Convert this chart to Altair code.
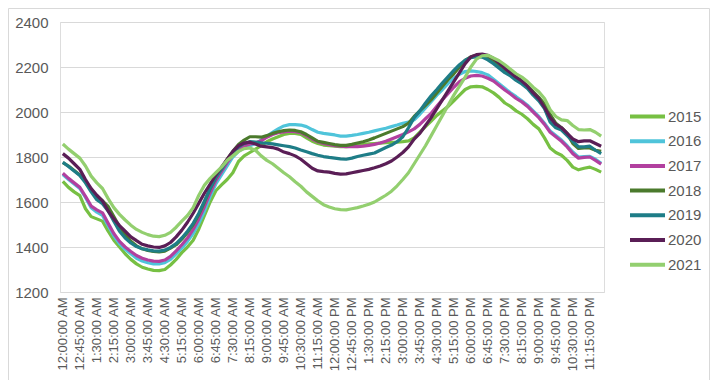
import altair as alt
import pandas as pd

years = ["2015", "2016", "2017", "2018", "2019", "2020", "2021"]
colors = ["#77C043", "#4FC4DA", "#B2409F", "#4B7A2C", "#1E7D87", "#5A1E56", "#93CF6F"]

# 15-minute intervals over one day
times = []
for h in range(24):
    hh = 12 if h % 12 == 0 else h % 12
    ap = "AM" if h < 12 else "PM"
    for m in (0, 15, 30, 45):
        times.append(f"{hh}:{m:02d}:00 {ap}")
tick_labels = times[::3]

v2015 = [1692, 1665, 1645, 1628, 1570, 1535, 1525, 1515, 1470, 1430, 1400, 1370,
         1345, 1325, 1310, 1302, 1296, 1295, 1300, 1320, 1345, 1375, 1400, 1430,
         1480, 1540, 1600, 1650, 1676, 1700, 1730, 1780, 1805, 1820, 1835, 1850,
         1868, 1880, 1890, 1900, 1905, 1905, 1900, 1885, 1870, 1860, 1853, 1850,
         1848, 1846, 1846, 1848, 1852, 1855, 1858, 1860, 1862, 1864, 1865, 1866,
         1868, 1872, 1885, 1910, 1935, 1960, 1985, 2005, 2025, 2050, 2075, 2100,
         2112, 2114, 2112, 2100, 2085, 2065, 2040, 2025, 2005, 1990, 1970, 1945,
         1925, 1885, 1840, 1820, 1808, 1785, 1755, 1743, 1750, 1755, 1745, 1733]
v2016 = [1722, 1700, 1680, 1660, 1620, 1575, 1555, 1540, 1495, 1450, 1415, 1390,
         1370, 1350, 1338, 1330, 1325, 1325, 1330, 1345, 1370, 1395, 1425, 1460,
         1505, 1560, 1625, 1680, 1720, 1760, 1800, 1825, 1840, 1850, 1860, 1875,
         1892, 1910, 1925, 1938, 1944, 1944, 1942, 1935, 1922, 1910, 1905, 1902,
         1898, 1893, 1893, 1896, 1900, 1905, 1910, 1916, 1922, 1928, 1935, 1942,
         1950, 1955, 1965, 1990, 2018, 2046, 2075, 2100, 2127, 2150, 2168, 2180,
         2183, 2180, 2175, 2165, 2145, 2125, 2105, 2085, 2068, 2050, 2030, 2005,
         1980, 1950, 1915, 1895, 1875, 1850, 1822, 1800, 1802, 1803, 1790, 1772]
v2017 = [1728, 1705, 1685, 1665, 1625, 1582, 1565, 1552, 1505, 1460, 1425, 1400,
         1380, 1362, 1350, 1342, 1337, 1336, 1342, 1358, 1383, 1410, 1440, 1478,
         1525, 1580, 1640, 1695, 1735, 1775, 1810, 1835, 1848, 1858, 1862, 1872,
         1888, 1900, 1908, 1912, 1915, 1913, 1908, 1895, 1880, 1868, 1860, 1855,
         1850, 1848, 1846, 1846, 1846, 1848, 1852, 1856, 1862, 1870, 1880, 1890,
         1900, 1912, 1925, 1945, 1970, 1994, 2025, 2055, 2083, 2110, 2135, 2150,
         2160, 2163, 2160, 2150, 2138, 2118, 2098, 2080, 2060, 2045, 2025, 2000,
         1975, 1945, 1910, 1890, 1870, 1845, 1815, 1795, 1798, 1800, 1785, 1768]
v2018 = [1775, 1760, 1740, 1720, 1690, 1655, 1625, 1605, 1580, 1535, 1490, 1455,
         1425, 1405, 1392, 1385, 1380, 1378, 1382, 1395, 1410, 1435, 1465, 1500,
         1545, 1600, 1660, 1710, 1750, 1790, 1825, 1855, 1875, 1890, 1890, 1888,
         1895, 1905, 1912, 1917, 1920, 1918, 1912, 1900, 1885, 1870, 1865, 1860,
         1855, 1852, 1852, 1856, 1862, 1868, 1876, 1885, 1895, 1905, 1915, 1925,
         1935, 1950, 1980, 2005, 2030, 2055, 2085, 2115, 2145, 2170, 2200, 2230,
         2245, 2252, 2252, 2240, 2225, 2205, 2185, 2170, 2155, 2135, 2115, 2090,
         2065, 2035, 1990, 1950, 1930, 1905, 1860, 1838, 1840, 1840, 1830, 1825]
v2019 = [1777, 1758, 1738, 1718, 1685, 1645, 1610, 1592, 1560, 1515, 1470, 1440,
         1418, 1402, 1392, 1387, 1383, 1382, 1386, 1398, 1415, 1440, 1470, 1505,
         1550, 1605, 1660, 1708, 1745, 1785, 1820, 1845, 1860, 1868, 1866, 1863,
         1861, 1858, 1854, 1850, 1846, 1840, 1831, 1823, 1815, 1808, 1802, 1798,
         1795, 1792, 1790, 1795, 1802, 1808, 1813, 1818, 1830, 1842, 1853, 1868,
         1890, 1930, 1975, 2005, 2040, 2072, 2100, 2130, 2157, 2185, 2210, 2230,
         2242, 2246, 2244, 2232, 2215, 2195, 2175, 2160, 2140, 2125, 2105, 2075,
         2050, 2015, 1955, 1930, 1920, 1895, 1870, 1845, 1845, 1848, 1830, 1815]
v2020 = [1815, 1795, 1770, 1745, 1700, 1660, 1630, 1605, 1560, 1525, 1495, 1470,
         1445, 1428, 1412, 1405, 1400, 1398, 1405, 1420, 1445, 1475, 1510, 1550,
         1595, 1640, 1680, 1720, 1755, 1790, 1825, 1850, 1862, 1866, 1858, 1848,
         1845, 1842, 1835, 1822, 1815, 1805, 1790, 1770, 1750, 1738, 1735, 1733,
         1727, 1724, 1725, 1730, 1735, 1740, 1745, 1752, 1760, 1770, 1782, 1800,
         1820, 1845, 1880, 1905, 1940, 1975, 2015, 2055, 2095, 2135, 2175, 2215,
         2245, 2255, 2257, 2252, 2238, 2218, 2195, 2175, 2155, 2138, 2115, 2085,
         2060, 2020, 1975, 1945, 1930, 1905, 1880, 1868, 1872, 1872, 1860, 1848]
v2021 = [1858, 1835, 1815, 1795, 1760, 1715, 1685, 1660, 1615, 1575, 1545, 1520,
         1497, 1478, 1465, 1455, 1448, 1446, 1452, 1465, 1488, 1515, 1540, 1575,
         1630, 1675, 1705, 1730, 1755, 1785, 1805, 1825, 1837, 1840, 1830, 1805,
         1785, 1770, 1750, 1730, 1712, 1690, 1670, 1645, 1625, 1605, 1588, 1578,
         1570, 1566, 1565, 1570, 1575, 1582, 1590, 1600, 1615, 1630, 1648, 1672,
         1700, 1730, 1770, 1810, 1850, 1895, 1940, 1985, 2030, 2075, 2115, 2155,
         2200, 2235, 2250, 2252, 2240, 2228, 2210, 2190, 2170, 2155, 2135, 2110,
         2090, 2060, 2010, 1980, 1965, 1962, 1940, 1922, 1920, 1922, 1910, 1893]

series = [v2015, v2016, v2017, v2018, v2019, v2020, v2021]
rows = []
for yr, vals in zip(years, series):
    for t, v in zip(times, vals):
        rows.append({"time": t, "year": yr, "value": v})
df = pd.DataFrame(rows)

W, H = 544, 270

lines = alt.Chart(df).mark_line(strokeWidth=3.2, interpolate="linear",
                                strokeJoin="round").encode(
    x=alt.X("time:O", sort=times, scale=alt.Scale(type="point", padding=0.5),
            axis=alt.Axis(values=tick_labels, title=None, labelAngle=-90,
                          labelFontSize=13, labelColor="#595959", ticks=False,
                          domain=False, grid=False, labelPadding=5,
                          labelFont="Liberation Sans")),
    y=alt.Y("value:Q", scale=alt.Scale(domain=[1200, 2400], nice=False, zero=False),
            axis=alt.Axis(values=[1200, 1400, 1600, 1800, 2000, 2200, 2400], title=None,
                          format="d",
                          labelFontSize=15, labelColor="#595959", ticks=False,
                          domain=False, gridColor="#D9D9D9", gridWidth=1.2,
                          labelPadding=12, labelFont="Liberation Sans")),
    color=alt.Color("year:N", sort=years,
                    scale=alt.Scale(domain=years, range=colors),
                    legend=alt.Legend(title=None, orient="none", legendX=573, legendY=80,
                                      symbolType="M-1.4,0H1.4", symbolSize=625,
                                      symbolStrokeWidth=4, labelFontSize=15,
                                      labelColor="#595959", labelFont="Liberation Sans",
                                      rowPadding=1.7, labelOffset=6)),
)

border = alt.Chart(pd.DataFrame({"a": [0]})).mark_rect(
    fill="transparent", stroke="#D9D9D9", strokeWidth=1
).encode(x=alt.value(-51.5), x2=alt.value(649.5), y=alt.value(-13.5), y2=alt.value(359.5))

chart = alt.layer(border, lines).properties(
    width=W, height=H,
    autosize=alt.AutoSizeParams(type="none"),
    padding={"left": 52, "top": 14, "right": 106, "bottom": 88},
).configure_view(stroke=None).configure(background="white")

chart.save("out.html", embed_options={"renderer": "svg", "actions": False})
